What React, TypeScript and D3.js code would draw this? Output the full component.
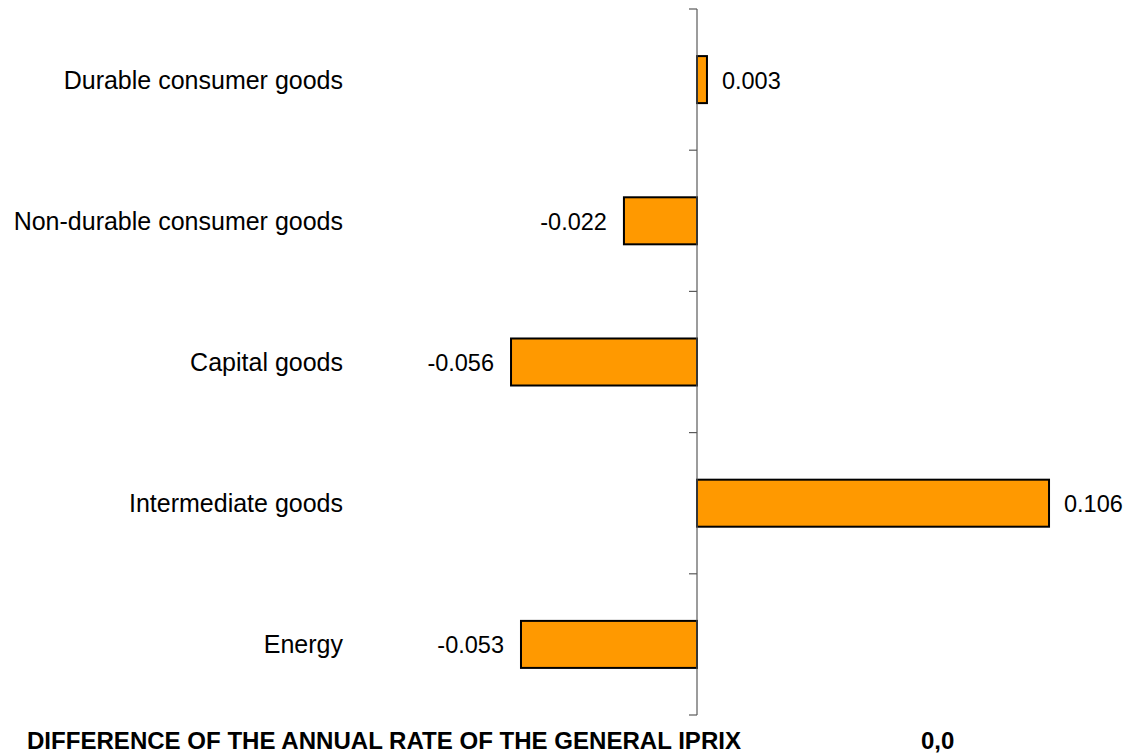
import React from "react";
import * as d3 from "d3";

const categories: string[] = [
  "Durable consumer goods",
  "Non-durable consumer goods",
  "Capital goods",
  "Intermediate goods",
  "Energy",
];
const values: number[] = [0.003, -0.022, -0.056, 0.106, -0.053];
const valueLabels: string[] = ["0.003", "-0.022", "-0.056", "0.106", "-0.053"];
const footerTitle = "DIFFERENCE OF THE ANNUAL RATE OF THE GENERAL IPRIX";
const footerValue = "0,0";

const W = 1128;
const H = 756;
const FONT = "Arial, 'Liberation Sans', Helvetica, sans-serif";

export default function App() {
  const zeroX = 697;
  const pxPerUnit = 3321;
  const xDomain: [number, number] = [-0.2, 0.12];
  const x = d3
    .scaleLinear()
    .domain(xDomain)
    .range([zeroX + xDomain[0] * pxPerUnit, zeroX + xDomain[1] * pxPerUnit]);

  const yTop = 9;
  const yBottom = 715;
  const y = d3
    .scaleBand<string>()
    .domain(categories)
    .range([yTop, yBottom])
    .paddingInner(0.667)
    .paddingOuter(0.3335);
  const step = y.step();
  const tickYs = d3.range(categories.length + 1).map((i) => yTop + i * step);

  return (
    <svg
      width={W}
      height={H}
      style={{ position: "absolute", left: 0, top: 0, background: "#fff" }}
      fontFamily={FONT}
    >
      {/* bars */}
      {categories.map((c, i) => {
        const v = values[i];
        const x0 = x(Math.min(0, v));
        const x1 = x(Math.max(0, v));
        return (
          <rect
            key={c}
            x={x0}
            y={y(c)}
            width={x1 - x0}
            height={y.bandwidth()}
            fill="#FF9900"
            stroke="#000"
            strokeWidth={2}
          />
        );
      })}
      {/* axis */}
      <line x1={x(0)} x2={x(0)} y1={yTop} y2={yBottom} stroke="#5a5a5a" strokeWidth={1.2} />
      {tickYs.map((ty, i) => (
        <line key={i} x1={x(0) - 8} x2={x(0)} y1={ty} y2={ty} stroke="#5a5a5a" strokeWidth={1.2} />
      ))}
      {/* category labels */}
      {categories.map((c) => (
        <text
          key={c}
          x={343}
          y={(y(c) as number) + y.bandwidth() / 2 + 9}
          textAnchor="end"
          fontSize={25}
          fill="#000"
        >
          {c}
        </text>
      ))}
      {/* value labels */}
      {categories.map((c, i) => {
        const v = values[i];
        const pos = v >= 0;
        return (
          <text
            key={c}
            x={pos ? x(v) + 15 : x(v) - 17}
            y={(y(c) as number) + y.bandwidth() / 2 + 9}
            textAnchor={pos ? "start" : "end"}
            fontSize={23.5}
            fill="#000"
          >
            {valueLabels[i]}
          </text>
        );
      })}
      {/* footer */}
      <text x={27} y={749} fontSize={24} fontWeight="bold" fill="#000" textLength={714} lengthAdjust="spacingAndGlyphs">
        {footerTitle}
      </text>
      <text x={921} y={749} fontSize={24} fontWeight="bold" fill="#000">
        {footerValue}
      </text>
    </svg>
  );
}
